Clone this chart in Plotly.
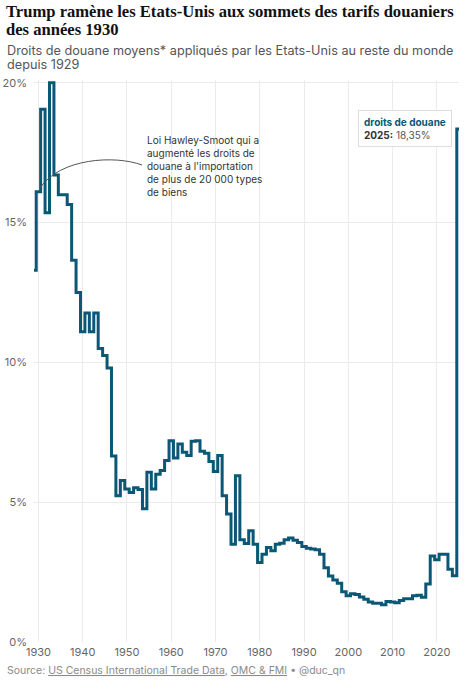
import plotly.graph_objects as go

years = list(range(1929, 2026))
droits = [
    13.3, 16.1, 19.05, 15.35, 20.0, 16.7, 16.0, 16.0, 15.65, 13.65,   # 1929-1938
    12.5, 11.1, 11.77, 11.1, 11.77, 10.5, 10.25, 9.8, 6.65, 5.23,     # 1939-1948
    5.78, 5.47, 5.35, 5.52, 5.45, 4.77, 6.07, 5.47, 6.0, 6.13,        # 1949-1958
    6.49, 7.2, 6.58, 7.08, 6.79, 6.67, 7.18, 7.2, 6.82, 6.75,         # 1959-1968
    6.46, 6.1, 6.67, 5.23, 4.58, 3.5, 5.95, 3.66, 3.52, 3.98,         # 1969-1978
    3.5, 2.84, 3.14, 3.38, 3.26, 3.5, 3.53, 3.66, 3.72, 3.64,         # 1979-1988
    3.56, 3.42, 3.35, 3.33, 3.3, 3.14, 2.66, 2.36, 2.22, 2.1,         # 1989-1998
    1.8, 1.65, 1.73, 1.7, 1.61, 1.53, 1.43, 1.39, 1.39, 1.33,         # 1999-2008
    1.45, 1.43, 1.4, 1.48, 1.55, 1.55, 1.65, 1.67, 1.6, 2.07,         # 2009-2018
    3.08, 2.94, 3.14, 3.14, 2.6, 2.37, 18.35,                         # 2019-2025
]
x_ticks = [1930, 1940, 1950, 1960, 1970, 1980, 1990, 2000, 2010, 2020]
y_ticks = [0, 5, 10, 15, 20]
y_labels = ['0%', '5%', '10%', '15%', '20%']

BLEU = '#0b5776'
W, H = 467, 680
M = dict(l=34, r=8, t=80, b=38)

# pixel -> paper helpers for the text blocks
def px(x):
    return (x - M['l']) / (W - M['l'] - M['r'])

def py(y):
    return (H - M['b'] - y) / (H - M['t'] - M['b'])

fig = go.Figure()
fig.add_trace(go.Scatter(
    x=years, y=droits, mode='lines', name='droits de douane',
    line=dict(shape='hvh', color=BLEU, width=3),
    hoverinfo='skip',
))

serif = dict(family='Liberation Serif', size=16.6, color='#111')
sans = dict(family='Inter', size=12.7, color='#555')
annots = [
    dict(text='<b>Trump ramène les Etats-Unis aux sommets des tarifs douaniers</b>',
         x=px(4), y=py(12), font=serif),
    dict(text='<b>des années 1930</b>', x=px(4), y=py(30), font=serif),
    dict(text='Droits de douane moyens* appliqués par les Etats-Unis au reste du monde',
         x=px(5), y=py(50), font=sans),
    dict(text='depuis 1929', x=px(5), y=py(65), font=sans),
    dict(text='Source: <span style="text-decoration:underline">US Census International Trade Data</span>, '
              '<span style="text-decoration:underline">OMC &amp; FMI</span> • @duc_qn',
         x=px(5), y=py(670), font=dict(family='Inter', size=10.5, color='#8a8a8a')),
    dict(text="Loi Hawley-Smoot qui a<br>augmenté les droits de<br>douane à l'importation"
              "<br>de plus de 20 000 types<br>de biens",
         x=px(145), y=py(165.5), font=dict(family='Inter', size=10, color='#333')),
]
for a in annots:
    fig.add_annotation(xref='paper', yref='paper', xanchor='left', yanchor='middle',
                       showarrow=False, align='left', **a)

fig.add_annotation(
    xref='paper', yref='paper', x=px(358), y=py(128.5), xanchor='left', yanchor='middle',
    showarrow=False, align='left',
    text=f'<b><span style="color:{BLEU}">droits de douane</span></b><br>'
         '<b>2025:</b> <span style="color:#555">18,35%</span>',
    font=dict(family='Inter', size=10, color='#333'),
    bgcolor='white', bordercolor='#dddddd', borderwidth=1, borderpad=5,
)

fig.add_shape(type='path', xref='x', yref='y', layer='above',
              path='M 1953.4,17.06 C 1947.3,17.42 1934.9,17.31 1930.35,16.24',
              line=dict(color='#555', width=1))

fig.update_layout(
    width=W, height=H, margin=M,
    plot_bgcolor='white', paper_bgcolor='white',
    showlegend=False,
    font=dict(family='Inter', size=11, color='#666'),
    xaxis=dict(range=[1929, 2025], tickvals=x_ticks, showgrid=True, gridcolor='#ebebeb',
               gridwidth=1, zeroline=False, showline=False, ticks='', ticklabelstandoff=2,
               automargin=False, tickfont=dict(size=11, color='#666')),
    yaxis=dict(range=[0, 20.1], tickvals=y_ticks, ticktext=y_labels, showgrid=True,
               gridcolor='#ebebeb', gridwidth=1, zeroline=False, showline=False, ticks='',
               ticklabelstandoff=6, automargin=False, tickfont=dict(size=11, color='#666')),
)

# page has a default 8px body margin, drop it so the figure sits at 0,0
fig.write_html('out.html', config={'displayModeBar': False},
               post_script="document.body.style.margin='0';")
